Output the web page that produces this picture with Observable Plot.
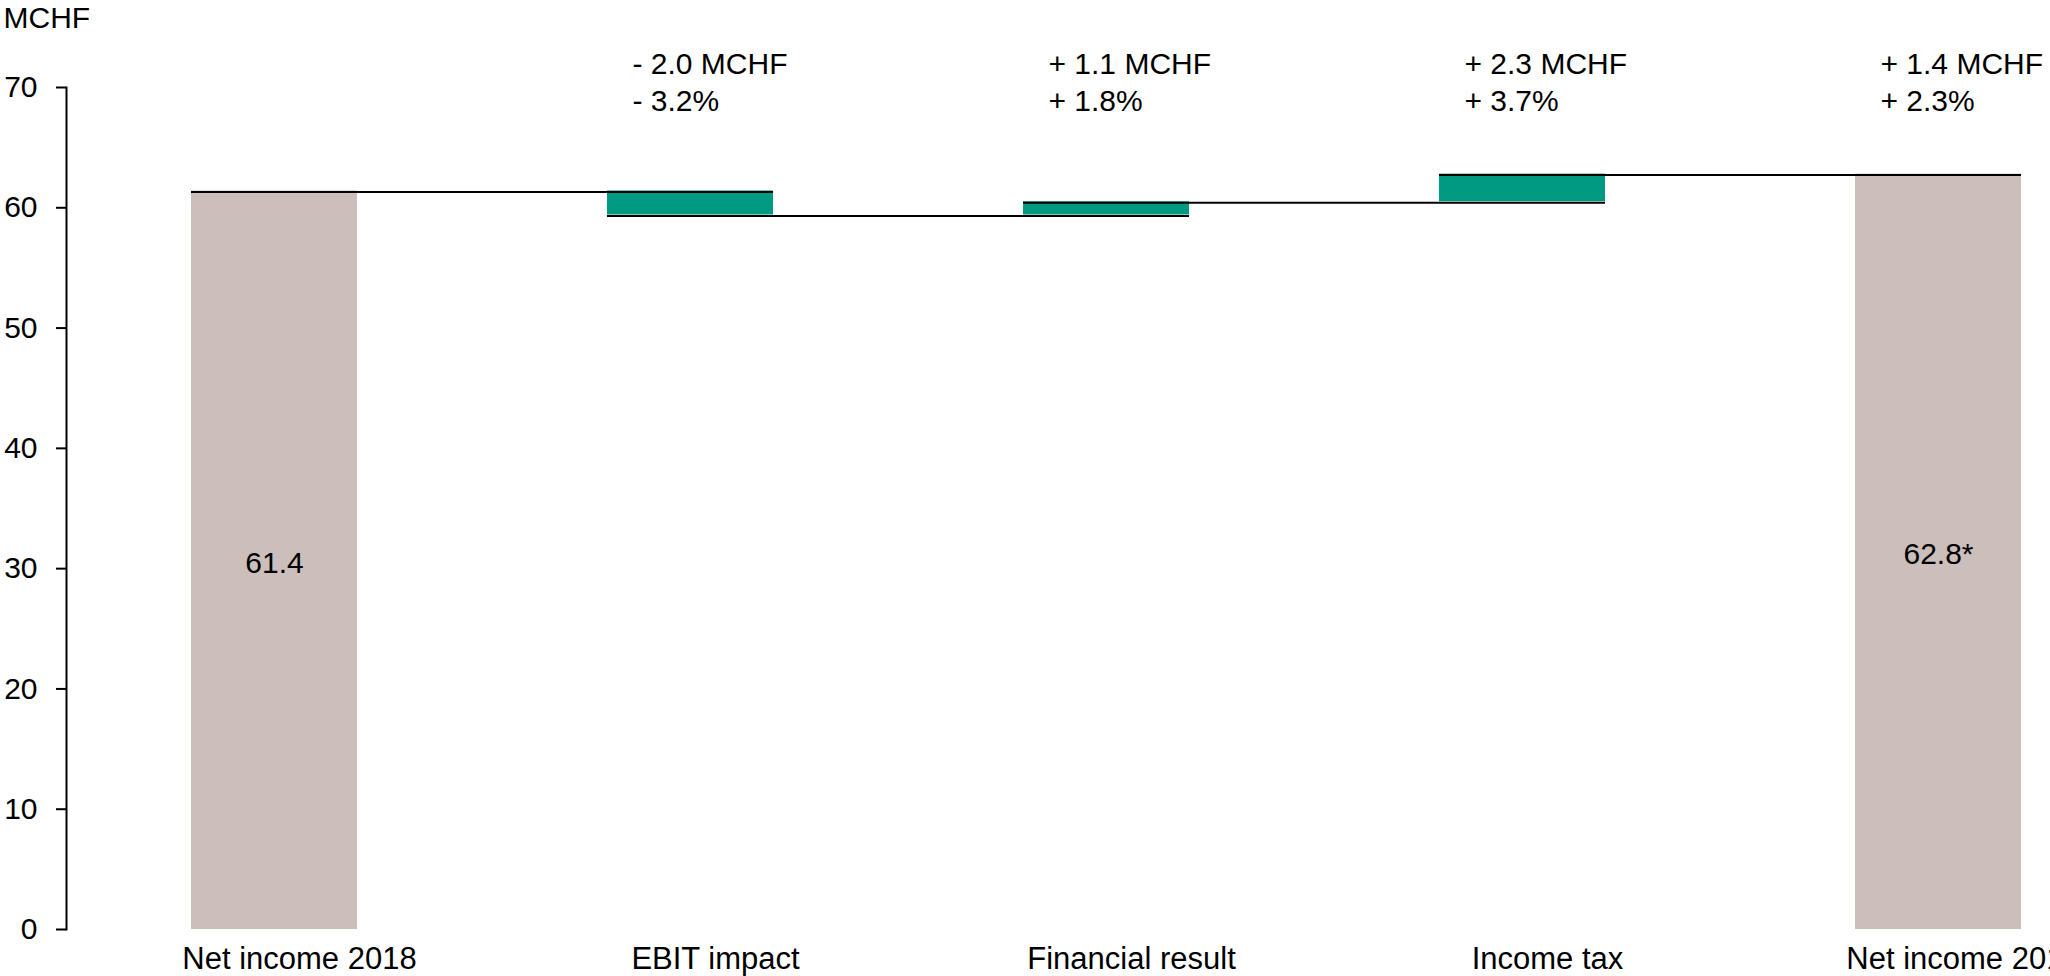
<!DOCTYPE html>
<html>
<head>
<meta charset="utf-8">
<script src="https://cdn.jsdelivr.net/npm/d3@7"></script>
<script src="https://cdn.jsdelivr.net/npm/@observablehq/plot@0.6"></script>
<style>
  html, body { margin: 0; padding: 0; background: white; }
  #chart svg { display: block; max-width: none; }
</style>
</head>
<body>
<div id="chart"></div>
<script>
// Net income bridge, MCHF
const categories = ["Net income 2018", "EBIT impact", "Financial result", "Income tax", "Net income 2019"];
const values = [61.4, -2.0, 1.1, 2.3, 62.8];
const isTotal = [true, false, false, false, true];
const amountLabels = ["", "- 2.0 MCHF", "+ 1.1 MCHF", "+ 2.3 MCHF", "+ 1.4 MCHF"];
const percentLabels = ["", "- 3.2%", "+ 1.8%", "+ 3.7%", "+ 2.3%"];
const totalSuffix = ["", "", "", "", "*"];
const yTicks = [0, 10, 20, 30, 40, 50, 60, 70];

const totalColor = "#cbbebb";
const deltaColor = "#009a82";

// Waterfall segments: totals start at zero, changes start at the running level
let level = 0;
const rows = categories.map((cat, i) => {
  let y1, y2;
  if (isTotal[i]) { y1 = 0; y2 = values[i]; level = values[i]; }
  else { y1 = level; y2 = level + values[i]; level = y2; }
  return {cat, value: values[i], y1, y2, end: level, total: isTotal[i],
          amount: amountLabels[i], pct: percentLabels[i], suffix: totalSuffix[i]};
});

// Connector from each bar's level to the right edge of the next bar
const connectors = rows.slice(0, -1).map((r, i) => ({from: r.cat, to: rows[i + 1].cat, y: r.end}));

const plot = Plot.plot({
  width: 2050,
  height: 976,
  marginLeft: 66,
  marginTop: 87,
  marginBottom: 47,
  marginRight: 0,
  style: {
    fontFamily: "'Liberation Sans', Arial, sans-serif",
    fontSize: "30px",
    color: "black",
    background: "white",
    overflow: "hidden"
  },
  x: {domain: categories, range: [66, 2146], paddingInner: 0.6, paddingOuter: 0.3, align: 0.5, axis: null},
  y: {domain: [0, 70], axis: null},
  marks: [
    Plot.barY(rows.filter(d => d.total), {x: "cat", y1: "y1", y2: "y2", fill: totalColor}),
    Plot.barY(rows.filter(d => !d.total), {x: "cat", y1: "y1", y2: "y2", fill: deltaColor}),
    Plot.ruleY(connectors, {x1: "from", x2: "to", y: "y", stroke: "black", strokeWidth: 2, dy: 1}),
    Plot.frame({anchor: "left", stroke: "black", strokeWidth: 2}),
    Plot.axisY(yTicks, {tickSize: 10, tickPadding: 19, strokeWidth: 2, label: null, fontSize: 30}),
    Plot.axisX({tickSize: 0, tickPadding: 17, dx: 25, label: null, fontSize: 31}),
    Plot.text(rows.filter(d => d.total), {
      x: "cat", y: d => d.y2 / 2,
      text: d => d3.format(".1f")(d.value) + d.suffix,
      dy: 3, fontSize: 30, fill: "black"
    }),
    Plot.text(rows.filter(d => d.amount), {
      x: "cat", frameAnchor: "top", lineAnchor: "top", textAnchor: "start",
      text: d => d.amount + "\n" + d.pct,
      dx: -58, dy: -40, lineHeight: 1.23, fontSize: 30, fill: "black"
    }),
    Plot.text(["MCHF"], {
      frameAnchor: "top-left", textAnchor: "start", lineAnchor: "top",
      dx: -63, dy: -81, fontSize: 30, fill: "black"
    })
  ]
});

document.getElementById("chart").appendChild(plot);
</script>
</body>
</html>
